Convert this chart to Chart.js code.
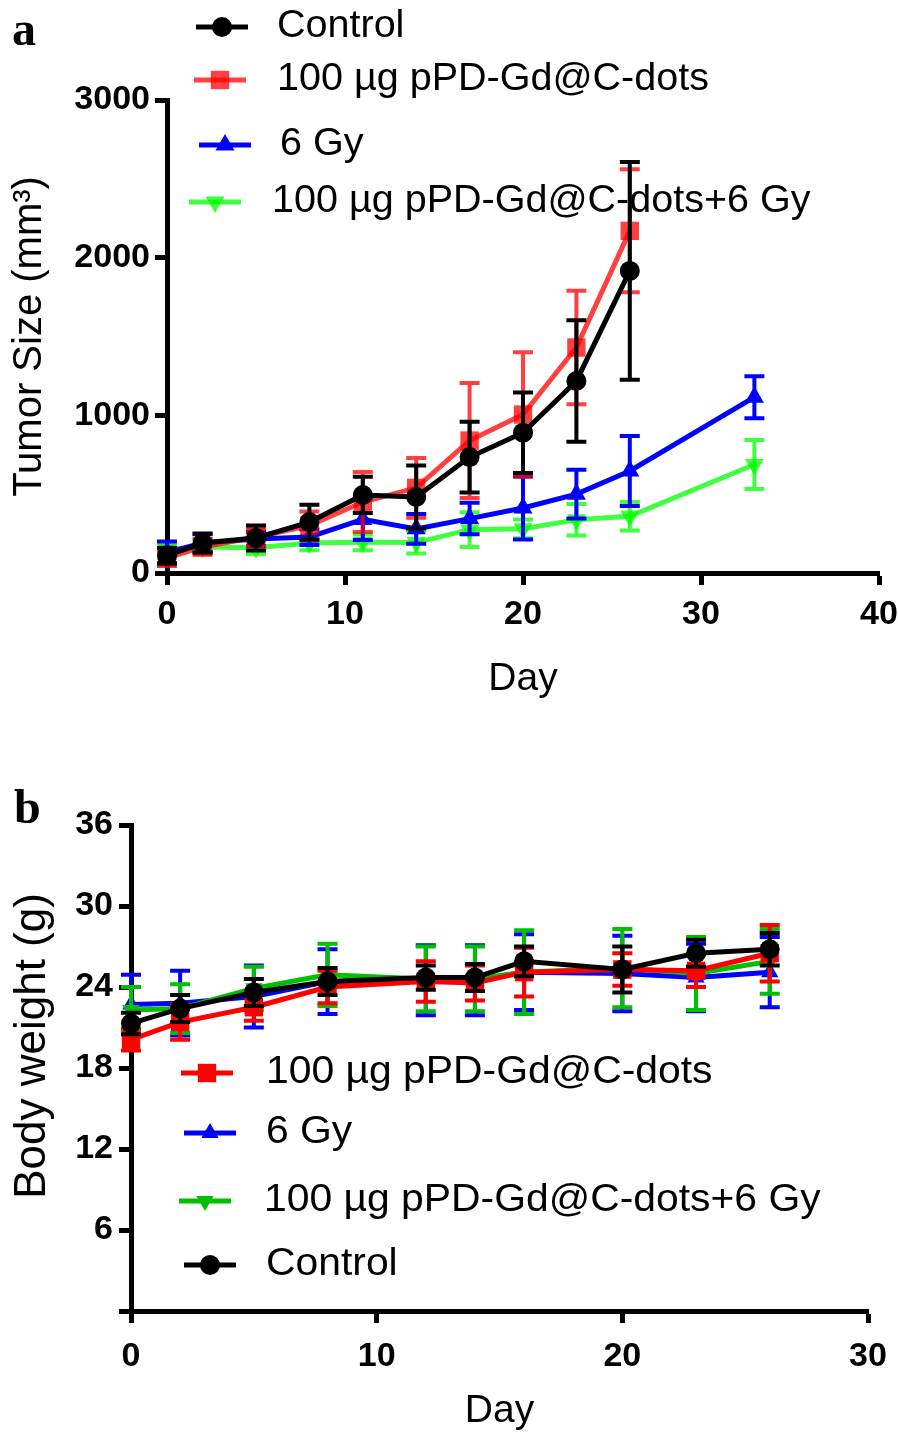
<!DOCTYPE html>
<html>
<head>
<meta charset="utf-8">
<script src="https://cdn.jsdelivr.net/npm/chart.js@4.4.0/dist/chart.umd.min.js"></script>
<style>
  body { margin: 0; background: #fff; }
  #wrap { position: relative; width: 898px; height: 1437px; }
  canvas { position: absolute; left: 0; }
  .letter { position: absolute; font-family: "Liberation Serif", "DejaVu Serif", serif; font-weight: bold; font-size: 48px; line-height: 1; }
</style>
</head>
<body>
<div id="wrap">
  <canvas id="chartA" width="898" height="720" style="top:0;width:898px;height:720px"></canvas>
  <canvas id="chartB" width="898" height="717" style="top:720px;width:898px;height:717px"></canvas>
  <div class="letter" style="left:12px;top:5px">a</div>
  <div class="letter" style="left:14px;top:783px">b</div>
</div>
<script>
// Panel a - tumor size
const daysA = [0, 2, 5, 8, 11, 14, 17, 20, 23, 26, 33];
const controlA = [110, 190, 222, 323, 495, 482, 735, 890, 1218, 1916];
const controlErrA = [50, 60, 80, 110, 115, 200, 225, 255, 385, 690];
const pdA = [95, 165, 228, 300, 450, 540, 840, 1005, 1430, 2170];
const pdErrA = [50, 50, 60, 90, 190, 190, 365, 395, 360, 390];
const gyA = [130, 190, 216, 228, 340, 280, 345, 412, 500, 647, 1115];
const gyErrA = [70, 55, 45, 50, 130, 95, 100, 200, 155, 222, 133];
const comboA = [150, 165, 160, 190, 195, 193, 275, 280, 338, 360, 688];
const comboErrA = [40, 40, 40, 45, 50, 70, 110, 60, 100, 90, 155];

// Panel b - body weight
const daysB = [0, 2, 5, 8, 12, 14, 16, 20, 23, 26];
const pdB = [20.1, 21.4, 22.5, 24.0, 24.4, 24.3, 25.1, 25.3, 25.2, 26.5];
const pdErrB = [0.8, 1.3, 1.0, 1.2, 1.5, 1.3, 1.8, 1.2, 1.2, 2.1];
const gyB = [22.7, 22.8, 23.3, 24.4, 24.5, 24.5, 25.1, 25.0, 24.7, 25.1];
const gyErrB = [2.2, 2.4, 2.3, 2.4, 2.6, 2.6, 2.8, 2.8, 2.5, 2.6];
const comboB = [22.3, 22.4, 23.9, 24.9, 24.6, 24.6, 25.1, 25.4, 25.0, 25.9];
const comboErrB = [1.7, 1.8, 1.6, 2.3, 2.4, 2.4, 3.1, 2.9, 2.7, 2.4];
const controlB = [21.3, 22.4, 23.6, 24.4, 24.7, 24.7, 25.9, 25.3, 26.5, 26.8];
const controlErrB = [0.8, 1.0, 1.0, 1.0, 0.9, 1.0, 1.1, 1.7, 1.0, 1.2];

const labelControl = "Control";
const labelPd = "100 \u00b5g pPD-Gd@C-dots";
const labelGy = "6 Gy";
const labelCombo = "100 \u00b5g pPD-Gd@C-dots+6 Gy";

const FAMILY = '"Liberation Sans", Arial, sans-serif';

function series(label, days, vals, errs, color, style, radius, rotation) {
  return {
    label: label,
    data: vals.map((v, i) => ({ x: days[i], y: v })),
    errors: errs,
    borderColor: color,
    backgroundColor: color,
    borderWidth: 5,
    pointStyle: style,
    pointRadius: radius,
    pointHoverRadius: radius,
    pointRotation: rotation || 0,
    pointBorderWidth: 0,
    tension: 0,
    clip: false
  };
}

// error bars, drawn under each line
const errorBars = {
  id: 'errorBars',
  beforeDatasetDraw(chart, args, opts) {
    const ds = chart.data.datasets[args.index];
    const yScale = chart.scales.y;
    const ctx = chart.ctx;
    ctx.save();
    ctx.strokeStyle = ds.borderColor;
    ctx.lineWidth = opts.width;
    ctx.beginPath();
    args.meta.data.forEach((pt, i) => {
      const v = ds.data[i].y, e = ds.errors[i];
      const top = yScale.getPixelForValue(v + e);
      const bot = yScale.getPixelForValue(v - e);
      ctx.moveTo(pt.x, top); ctx.lineTo(pt.x, bot);
      ctx.moveTo(pt.x - opts.cap, top); ctx.lineTo(pt.x + opts.cap, top);
      ctx.moveTo(pt.x - opts.cap, bot); ctx.lineTo(pt.x + opts.cap, bot);
    });
    ctx.stroke();
    ctx.restore();
  }
};

// legend: line with marker, then label
const lineLegend = {
  id: 'lineLegend',
  beforeDatasetsDraw(chart, args, opts) {
    const ctx = chart.ctx;
    ctx.save();
    opts.items.forEach(item => {
      const ds = chart.data.datasets[item.index];
      ctx.strokeStyle = ds.borderColor;
      ctx.fillStyle = ds.backgroundColor;
      ctx.lineWidth = 5;
      ctx.beginPath();
      ctx.moveTo(item.x - 26, item.y);
      ctx.lineTo(item.x + 26, item.y);
      ctx.stroke();
      Chart.helpers.drawPoint(ctx, {
        pointStyle: ds.pointStyle, rotation: ds.pointRotation,
        radius: ds.pointRadius, borderWidth: 0
      }, item.x, item.y);
      ctx.save();
      ctx.translate(item.tx, item.y);
      ctx.scale(opts.stretch, 1);
      ctx.fillStyle = '#000';
      ctx.font = opts.fontSize + 'px ' + FAMILY;
      ctx.textBaseline = 'middle';
      ctx.textAlign = 'left';
      ctx.fillText(ds.label, 0, 0);
      ctx.restore();
    });
    ctx.restore();
  }
};

function axis(min, max, step, title, titleSize, titlePad, fit, tickPad, hideZero) {
  return {
    type: 'linear', min: min, max: max,
    ticks: {
      stepSize: step, color: '#000', padding: tickPad, maxRotation: 0,
      font: { family: FAMILY, size: 34, weight: 'bold' },
      callback: v => (hideZero && v === 0) ? '' : v
    },
    grid: { drawOnChartArea: false, tickLength: 12, tickWidth: 5, tickColor: '#000' },
    border: { color: '#000', width: 5 },
    title: { display: true, text: title, color: '#000', padding: titlePad, font: { family: FAMILY, size: titleSize } },
    afterFit: fit
  };
}

// fixed axis boxes so the plot area lands where the figure has it
function fitX(h) {
  return s => { s.height = h; s.paddingLeft = 0; s.paddingRight = 0; };
}
function fitY(w) {
  return s => { s.width = w; s.paddingTop = 0; s.paddingBottom = 0; };
}

new Chart(document.getElementById('chartA'), {
  type: 'line',
  data: {
    datasets: [
      series(labelControl, daysA, controlA, controlErrA, '#000000', 'circle', 10),
      series(labelPd, daysA, pdA, pdErrA, 'rgba(255,0,0,0.75)', 'rect', 13),
      series(labelGy, daysA, gyA, gyErrA, '#0000ff', 'triangle', 11),
      series(labelCombo, daysA, comboA, comboErrA, 'rgba(0,255,0,0.75)', 'triangle', 11, 180)
    ]
  },
  options: {
    responsive: false,
    animation: false,
    layout: { padding: { top: 100, right: 19, bottom: 0, left: 0 } },
    plugins: {
      legend: { display: false },
      tooltip: { enabled: false },
      errorBars: { width: 4, cap: 10 },
      lineLegend: {
        fontSize: 38,
        stretch: 1.04,
        items: [
          { index: 0, x: 222, y: 27, tx: 277 },
          { index: 1, x: 220, y: 80, tx: 277 },
          { index: 2, x: 225, y: 145, tx: 280 },
          { index: 3, x: 215, y: 202, tx: 272 }
        ]
      }
    },
    scales: {
      x: axis(0, 40, 10, 'Day', 39, { top: 0, bottom: 17 }, fitX(147), 9, false),
      y: axis(0, 3000, 1000, 'Tumor Size (mm\u00b3)', 40, { top: 6, bottom: 0 }, fitY(167), 5, false)
    }
  },
  plugins: [errorBars, lineLegend]
});

new Chart(document.getElementById('chartB'), {
  type: 'line',
  data: {
    datasets: [
      series(labelControl, daysB, controlB, controlErrB, '#000000', 'circle', 10),
      series(labelPd, daysB, pdB, pdErrB, '#ff0000', 'rect', 13),
      series(labelCombo, daysB, comboB, comboErrB, '#00c000', 'triangle', 10, 180),
      series(labelGy, daysB, gyB, gyErrB, '#0000ff', 'triangle', 10)
    ]
  },
  options: {
    responsive: false,
    animation: false,
    layout: { padding: { top: 105, right: 30, bottom: 0, left: 0 } },
    plugins: {
      legend: { display: false },
      tooltip: { enabled: false },
      errorBars: { width: 4, cap: 10 },
      lineLegend: {
        fontSize: 38,
        stretch: 1.075,
        items: [
          { index: 1, x: 207, y: 353, tx: 266 },
          { index: 3, x: 210, y: 413, tx: 266 },
          { index: 2, x: 205, y: 481, tx: 264 },
          { index: 0, x: 210, y: 545, tx: 266 }
        ]
      }
    },
    scales: {
      x: axis(0, 30, 10, 'Day', 39, { top: 0, bottom: 2 }, fitX(126), 13, false),
      y: axis(0, 36, 6, '\u2002\u2002Body weight (g)', 44, { top: 6, bottom: 0 }, fitY(131), 6, true)
    }
  },
  plugins: [errorBars, lineLegend]
});
</script>
</body>
</html>
